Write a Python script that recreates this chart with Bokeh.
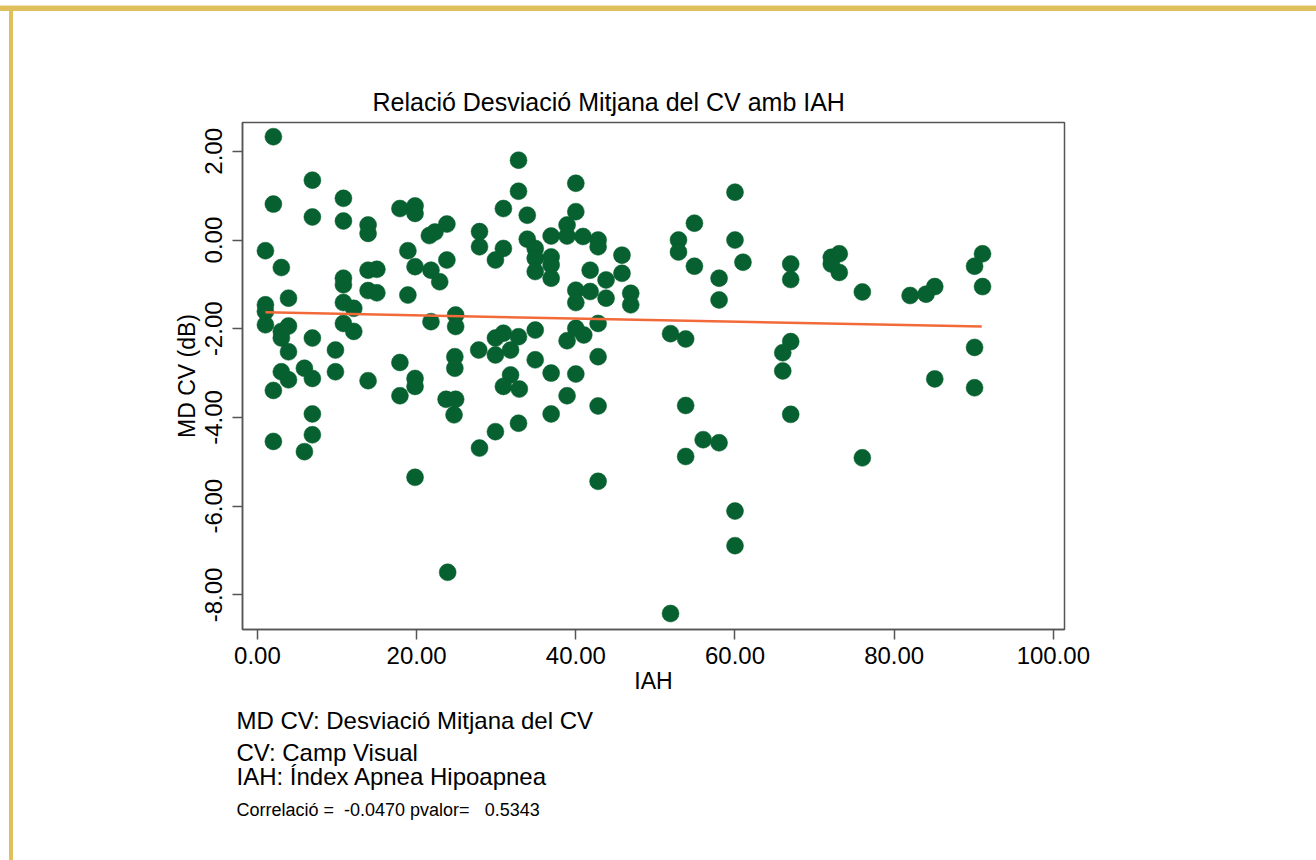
from bokeh.plotting import figure
from bokeh.models import Range1d, Title, FixedTicker, CustomJSTickFormatter
from bokeh.embed import file_html
from bokeh.resources import INLINE

# IAH (x) and MD CV in dB (y)
iah = [2.0, 6.9, 2.0, 10.8, 6.9, 10.8, 13.9, 13.9, 17.9, 19.8, 19.8, 21.6, 22.3, 23.8,
       1.0, 3.0, 18.9, 19.8, 21.8, 23.8, 22.9, 13.9, 15.0, 10.8, 10.8, 13.9, 15.0, 18.9,
       3.9, 1.0, 1.0, 1.0, 10.8, 12.1, 10.8, 12.1, 3.0, 3.9, 3.0, 6.9, 21.8, 24.9, 24.9,
       9.8, 3.9, 17.9, 24.8, 24.8, 3.0, 3.9, 5.9, 6.9, 9.8, 13.9, 19.8, 19.8, 2.0, 17.9,
       23.7, 24.9, 24.7, 6.9, 6.9, 2.0, 5.9, 19.8, 23.9,
       32.8, 32.8, 30.9, 33.9, 40.0, 40.0, 27.9, 27.9, 30.9, 29.9, 33.9, 34.9, 34.9, 34.9,
       36.9, 36.9, 36.9, 36.9, 38.9, 38.9, 40.9, 42.8, 42.8, 45.8, 45.8, 41.8, 43.8, 43.8,
       40.0, 41.8, 40.0, 46.9, 46.9, 27.8, 29.9, 30.9, 32.8, 34.9, 29.9, 31.8, 34.9, 38.9,
       40.0, 41.0, 42.8, 42.8, 36.9, 40.0, 31.8, 30.9, 32.9, 38.9, 42.8, 36.9, 32.8, 29.9,
       27.9, 42.8,
       60.0, 54.9, 52.9, 52.9, 54.9, 60.0, 61.0, 58.0, 58.0, 67.0, 67.0, 72.1, 73.1, 72.1,
       73.1, 76.0, 82.0, 84.0, 85.1, 90.1, 91.1, 91.1, 51.9, 53.8, 67.0, 66.0, 66.0, 90.1,
       85.1, 90.1, 53.8, 67.0, 56.0, 58.0, 53.8, 76.0, 60.0, 60.0, 51.9]
md_cv = [2.33, 1.35, 0.81, 0.94, 0.52, 0.43, 0.34, 0.15, 0.71, 0.77, 0.60, 0.10, 0.18, 0.36,
         -0.24, -0.62, -0.24, -0.60, -0.68, -0.45, -0.94, -0.68, -0.66, -0.86, -1.01, -1.14, -1.19, -1.24,
         -1.31, -1.46, -1.61, -1.91, -1.41, -1.54, -1.88, -2.06, -2.06, -1.94, -2.21, -2.21, -1.84, -1.69, -1.95,
         -2.48, -2.52, -2.76, -2.63, -2.89, -2.97, -3.15, -2.89, -3.12, -2.97, -3.17, -3.12, -3.30, -3.39, -3.51,
         -3.59, -3.59, -3.94, -3.92, -4.39, -4.54, -4.77, -5.35, -7.49,
         1.80, 1.10, 0.71, 0.56, 1.28, 0.64, 0.19, -0.15, -0.19, -0.45, 0.02, -0.19, -0.41, -0.71,
         0.09, -0.38, -0.56, -0.86, 0.34, 0.09, 0.08, 0.00, -0.15, -0.34, -0.75, -0.68, -0.90, -1.31,
         -1.13, -1.16, -1.41, -1.20, -1.46, -2.48, -2.21, -2.10, -2.18, -2.03, -2.59, -2.48, -2.70, -2.27,
         -1.99, -2.14, -1.88, -2.63, -3.00, -3.02, -3.04, -3.30, -3.36, -3.51, -3.74, -3.92, -4.13, -4.32,
         -4.69, -5.44,
         1.08, 0.38, 0.00, -0.27, -0.59, 0.00, -0.50, -0.86, -1.35, -0.54, -0.89, -0.39, -0.31, -0.54,
         -0.73, -1.17, -1.25, -1.22, -1.05, -0.59, -0.31, -1.05, -2.11, -2.23, -2.29, -2.54, -2.95, -2.42,
         -3.13, -3.33, -3.73, -3.93, -4.50, -4.57, -4.88, -4.91, -6.11, -6.89, -8.42]

# fitted regression line end points
fit_x = [1.0, 91.0]
fit_y = [-1.63, -1.95]

x_ticks = [0, 20, 40, 60, 80, 100]
y_ticks = [-8, -6, -4, -2, 0, 2]

NB = "\u00a0"
title_text = "Relació Desviació Mitjana del CV amb IAH"
notes = ["MD CV: Desviació Mitjana del CV", "CV: Camp Visual", "IAH: Índex Apnea Hipoapnea"]
note_standoffs = [16, -9, -1]
corr_text = f"Correlació ={NB}{NB}-0.0470 pvalor={NB}{NB}{NB}0.5343"

W, H = 1316, 860
FL, FR, FT, FB = 242, 1064, 122, 629   # frame edges in page pixels
FONT = "Liberation Sans"
GOLD = "#dfc05d"

p = figure(width=W, height=H, output_backend="svg", toolbar_location=None, title=None,
           x_range=Range1d(-1.88, 101.4), y_range=Range1d(-8.78, 2.65),
           min_border_left=FL, min_border_right=W - FR,
           min_border_top=FT, min_border_bottom=H - FB)
p.background_fill_color = "white"
p.border_fill_color = "white"
p.border_fill_alpha = 0.0
p.outline_line_color = "#555555"
p.outline_line_width = 1.5
p.grid.visible = False
# golden page frame (top and left edges) painted behind the transparent canvas border
p.styles = {
    "background-color": "white",
    "background-image": f"linear-gradient({GOLD}, {GOLD}), linear-gradient({GOLD}, {GOLD}), "
                        "linear-gradient(#efe2b8, #efe2b8)",
    "background-size": "100% 5px, 4px 100%, 100% 1px",
    "background-position": "0px 6px, 9px 6px, 0px 5px",
    "background-repeat": "no-repeat",
}

fmt = CustomJSTickFormatter(code="return tick.toFixed(2);")
for ax in (p.xaxis[0], p.yaxis[0]):
    ax.axis_line_color = "#555555"
    ax.axis_line_width = 1.5
    ax.major_tick_line_color = "#555555"
    ax.major_tick_line_width = 1.5
    ax.major_tick_out = 10
    ax.major_tick_in = 0
    ax.minor_tick_line_color = None
    ax.major_label_text_font = FONT
    ax.major_label_text_font_size = "24px"
    ax.major_label_text_color = "black"
    ax.axis_label_text_font = FONT
    ax.axis_label_text_font_size = "23px"
    ax.axis_label_text_font_style = "normal"
    ax.axis_label_text_color = "black"
    ax.formatter = fmt

p.xaxis[0].ticker = FixedTicker(ticks=x_ticks)
p.yaxis[0].ticker = FixedTicker(ticks=y_ticks)
p.xaxis[0].axis_label = "IAH"
p.yaxis[0].axis_label = "MD CV (dB)"
p.xaxis[0].major_label_standoff = 7
p.xaxis[0].axis_label_standoff = 1
p.yaxis[0].major_label_orientation = "vertical"
p.yaxis[0].major_label_standoff = 10
p.yaxis[0].axis_label_standoff = 3

p.scatter(iah, md_cv, size=17, fill_color="#07602f", line_color="#07602f", line_width=0.5)
p.line(fit_x, fit_y, line_color="#f26a3a", line_width=2.5)

# chart title, left-aligned at the reference's horizontal position
p.add_layout(Title(text=title_text, align="left", offset=372 - FL, standoff=13,
                   text_font=FONT, text_font_size="25px", text_font_style="normal",
                   text_color="black"), "above")

# explanatory notes below the x axis
for txt, so in zip(notes, note_standoffs):
    p.add_layout(Title(text=txt, align="left", offset=-6, standoff=so,
                       text_font=FONT, text_font_size="24px", text_font_style="normal",
                       text_color="black"), "below")
p.add_layout(Title(text=corr_text, align="left", offset=-6, standoff=17,
                   text_font=FONT, text_font_size="18px", text_font_style="normal",
                   text_color="black"), "below")

open("out.html", "w").write(file_html(p, INLINE))
